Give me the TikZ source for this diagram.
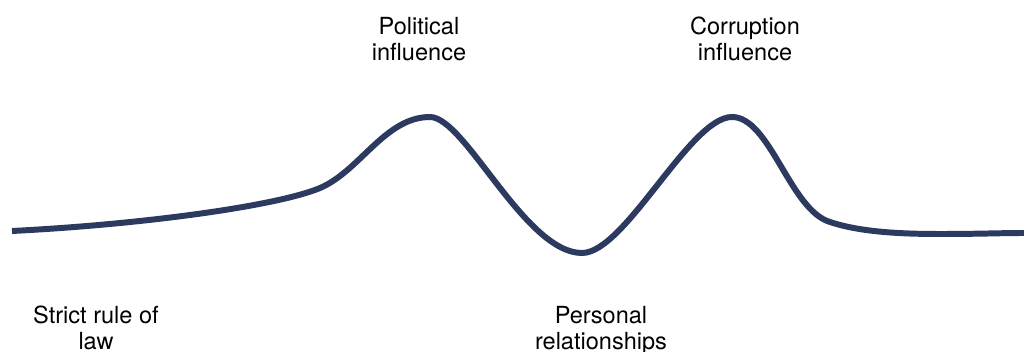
\documentclass[tikz,border=0pt]{standalone}
\usepackage{fontspec}
\setmainfont{TeX Gyre Heros}
\definecolor{wavecol}{HTML}{2C3A5F}
\tikzset{
  wave/.style={line width=3.4pt, draw=wavecol, line cap=butt, line join=round},
  stagelabel/.style={font=\fontsize{13.4}{14.6}\selectfont, align=center, inner sep=0pt, anchor=north},
}
\begin{document}
\begin{tikzpicture}
\useasboundingbox (0,0) rectangle (20.48,7.04);
% the curve, one bezier piece per bend
\draw[wave] (0.24,2.42) .. controls (3.00,2.56) and (5.60,2.94) .. (6.40,3.28)
  .. controls (7.20,3.62) and (7.70,4.70) .. (8.60,4.70)
  .. controls (9.30,4.70) and (10.50,1.98) .. (11.64,1.98)
  .. controls (12.50,1.98) and (13.80,4.70) .. (14.64,4.70)
  .. controls (15.40,4.70) and (15.80,2.84) .. (16.60,2.60)
  .. controls (17.20,2.40) and (18.00,2.36) .. (18.80,2.36)
  .. controls (19.60,2.36) and (20.00,2.38) .. (20.48,2.38);
% labels
\node[stagelabel] (political) at (8.38,6.70) {Political\\influence};
\node[stagelabel] (corruption) at (14.90,6.70) {Corruption\\influence};
\node[stagelabel] (rulelaw) at (1.92,0.92) {Strict rule of\\law};
\node[stagelabel] (personal) at (12.02,0.92) {Personal\\relationships};
\end{tikzpicture}
\end{document}
